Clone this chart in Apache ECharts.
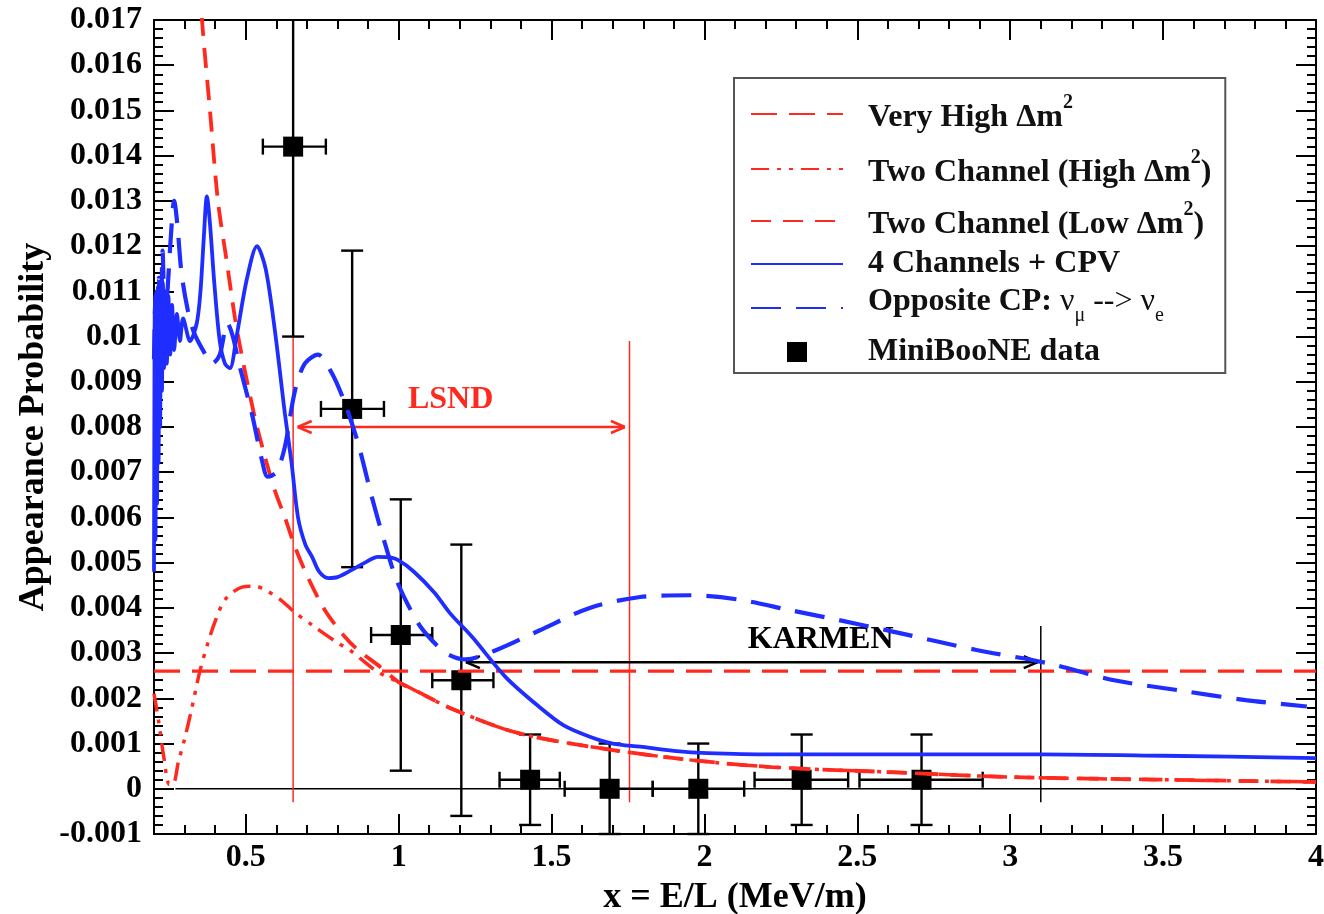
<!DOCTYPE html>
<html>
<head>
<meta charset="utf-8">
<title>Appearance Probability vs E/L</title>
<script src="https://cdn.jsdelivr.net/npm/echarts@6/dist/echarts.min.js"></script>
<style>
  html, body { margin: 0; padding: 0; background: #ffffff; }
  #chart { width: 1324px; height: 914px; }
</style>
</head>
<body>
<div id="chart"></div>
<script>
// ---------------- data ----------------
const xMajorTicks = [0.5, 1, 1.5, 2, 2.5, 3, 3.5, 4];

// Very High Δm² (averaged, constant)
const veryHighX = [0.2, 4.0];
const veryHighY = [0.0026, 0.0026];

// Two Channel (High Δm²)
const highX = [0.200, 0.215, 0.232, 0.250, 0.262, 0.280, 0.300, 0.321, 0.350, 0.376, 0.400, 0.432, 0.488, 0.530, 0.563, 0.610, 0.661, 0.717, 0.802, 0.840, 0.928, 1.000, 1.070, 1.170, 1.386, 1.657, 1.950, 2.220, 2.600, 3.000, 3.500, 4.000];
const highY = [0.0021, 0.0015, 0.0007, 0.0001, 0.0001, 0.0006, 0.0011, 0.0017, 0.0026, 0.00322, 0.0037, 0.00418, 0.00446, 0.00448, 0.0044, 0.0042, 0.0039, 0.00362, 0.00322, 0.00307, 0.0026, 0.00236, 0.00212, 0.00178, 0.00124, 0.0009, 0.00064, 0.00048, 0.00037, 0.00026, 0.0002, 0.00015];

// Two Channel (Low Δm²)
const lowX = [0.345, 0.357, 0.383, 0.409, 0.437, 0.465, 0.488, 0.530, 0.563, 0.595, 0.628, 0.661, 0.703, 0.759, 0.824, 0.867, 0.939, 1.000, 1.070, 1.170, 1.386, 1.657, 1.950, 2.220, 2.600, 3.000, 3.500, 4.000];
const lowY = [0.0185, 0.0170, 0.0150, 0.0130, 0.0117, 0.0104, 0.00955, 0.0082, 0.00734, 0.0066, 0.0060, 0.00535, 0.00468, 0.00395, 0.00336, 0.00307, 0.0027, 0.00236, 0.00212, 0.00178, 0.00124, 0.0009, 0.00064, 0.00048, 0.00037, 0.00026, 0.0002, 0.00015];

// 4 Channels + CPV
const cpvX = [0.200, 0.2025, 0.205, 0.2075, 0.210, 0.2125, 0.215, 0.2175, 0.220, 0.223, 0.226, 0.229, 0.233, 0.237, 0.242, 0.247, 0.253, 0.259, 0.266, 0.275, 0.285, 0.295, 0.318, 0.340, 0.352, 0.363, 0.373, 0.383, 0.397, 0.415, 0.432, 0.448, 0.470, 0.503, 0.537, 0.565, 0.595, 0.628, 0.650, 0.671, 0.695, 0.717, 0.740, 0.770, 0.800, 0.847, 0.890, 0.932, 0.965, 0.997, 1.050, 1.118, 1.167, 1.240, 1.350, 1.460, 1.540, 1.625, 1.700, 1.790, 1.900, 2.010, 2.220, 2.600, 3.100, 3.500, 4.000];
const cpvY = [0.0048, 0.0106, 0.0055, 0.0110, 0.0063, 0.0111, 0.0072, 0.0112, 0.0080, 0.0111, 0.0088, 0.0112, 0.0093, 0.0110, 0.0094, 0.0109, 0.0096, 0.0107, 0.0097, 0.0105, 0.0099, 0.0104, 0.0099, 0.0103, 0.0110, 0.0122, 0.0131, 0.0125, 0.0112, 0.0099, 0.0094, 0.0093, 0.0100, 0.01125, 0.0120, 0.0115, 0.01015, 0.0083, 0.0072, 0.0060, 0.0054, 0.00513, 0.0048, 0.00466, 0.00468, 0.00484, 0.0050, 0.00513, 0.00512, 0.00506, 0.0048, 0.00433, 0.00389, 0.00336, 0.00247, 0.00181, 0.0014, 0.00115, 0.0010, 0.00093, 0.00084, 0.00079, 0.00076, 0.00076, 0.00076, 0.00073, 0.00068];

// Opposite CP: ν_μ --> ν_e
const oppX = [0.200, 0.205, 0.210, 0.216, 0.222, 0.228, 0.236, 0.245, 0.255, 0.266, 0.276, 0.290, 0.310, 0.330, 0.360, 0.390, 0.415, 0.440, 0.458, 0.478, 0.520, 0.553, 0.572, 0.600, 0.628, 0.661, 0.693, 0.736, 0.781, 0.824, 0.867, 0.912, 0.955, 0.997, 1.063, 1.108, 1.160, 1.220, 1.320, 1.460, 1.625, 1.790, 1.950, 2.115, 2.280, 2.440, 2.620, 2.890, 3.120, 3.340, 3.550, 3.770, 3.970];
const oppY = [0.0095, 0.0109, 0.0098, 0.0113, 0.0101, 0.0119, 0.0104, 0.0111, 0.0122, 0.0130, 0.0125, 0.0114, 0.0106, 0.0101, 0.0097, 0.0094, 0.0096, 0.0103, 0.0100, 0.0094, 0.0083, 0.00727, 0.0069, 0.0070, 0.00756, 0.0088, 0.0094, 0.0096, 0.0092, 0.00853, 0.00765, 0.00646, 0.00543, 0.00455, 0.00367, 0.00329, 0.00298, 0.00286, 0.00307, 0.0035, 0.0040, 0.00424, 0.00428, 0.00418, 0.00395, 0.00373, 0.00347, 0.00307, 0.00278, 0.0024, 0.00218, 0.00196, 0.00182];

// MiniBooNE data: centre, bin edges and vertical error
const dataX    = [0.655, 0.848, 1.007, 1.205, 1.430, 1.690, 1.980, 2.318, 2.710];
const dataY    = [0.0142, 0.0084, 0.0034, 0.0024, 0.0002, 0.0, 0.0, 0.0002, 0.0002];
const dataXLow = [0.556, 0.746, 0.910, 1.110, 1.330, 1.543, 1.831, 2.164, 2.507];
const dataXHigh= [0.762, 0.952, 1.110, 1.310, 1.527, 1.831, 2.130, 2.470, 2.910];
const dataYErr = [0.0042, 0.0035, 0.0030, 0.0030, 0.0010, 0.0010, 0.0010, 0.0010, 0.0010];

// Allowed regions of LSND and KARMEN, plus the zero reference line
const lsndEdges   = [[0.655, -0.0003, 0.0105], [1.755, -0.0003, 0.0099]]; // x, yFrom, yTo
const lsndArrow   = [0.67, 1.74, 0.0080];   // xFrom, xTo, y
const lsndLabel   = [1.17, 0.0086];
const karmenEdge  = [3.10, -0.0003, 0.0036];
const karmenArrow = [1.22, 3.09, 0.0028];
const karmenLabel = [2.38, 0.0033];
const zeroLine    = [0.27, 4.0, 0.0];

// ---------------- styling ----------------
const RED = '#ff2a1f';
const BLUE = '#1f2dff';
const FONT = '"Liberation Serif", "Times New Roman", serif';
const X_MIN = 0.2, X_MAX = 4.0, Y_MIN = -0.001, Y_MAX = 0.017;

const zip = (xs, ys) => xs.map((x, i) => [x, ys[i]]);

const seriesNames = [
  'Very High Δm2',
  'Two Channel (High Δm2)',
  'Two Channel (Low Δm2)',
  '4 Channels + CPV',
  'Opposite CP: νμ --> νe',
  'MiniBooNE data'
];

const legendLabels = {
  'Very High Δm2': '{sp1| }{dn|Very High Δm}{sup|2}',
  'Two Channel (High Δm2)': '{sp2| }{dn|Two Channel (High Δm}{sup|2}{dn|)}',
  'Two Channel (Low Δm2)': '{sp3| }{dn|Two Channel (Low Δm}{sup|2}{dn|)}',
  '4 Channels + CPV': '{sp4| }4 Channels + CPV',
  'Opposite CP: νμ --> νe': '{sp5| }{up|Opposite CP: }{g|ν}{sub|μ}{g| --> ν}{sub|e}',
  'MiniBooNE data': '{sp6| }MiniBooNE data'
};

function lineSeries(name, xs, ys, color, width, dash, smooth) {
  return {
    name: name,
    type: 'line',
    data: zip(xs, ys),
    showSymbol: false,
    symbol: 'none',
    smooth: smooth,
    clip: true,
    lineStyle: { color: color, width: width, type: dash, cap: 'butt' },
    itemStyle: { color: color },
    emphasis: { disabled: true },
    silent: true
  };
}

function renderAnnotations(params, api) {
  const thin = (c) => ({ stroke: c, lineWidth: 1.5 });
  const thick = (c) => ({ stroke: c, lineWidth: 2.5 });
  const children = [];
  const seg = (a, b, style) => children.push({ type: 'line', shape: { x1: a[0], y1: a[1], x2: b[0], y2: b[1] }, style: style });
  const arrow = (spec, color) => {
    const a = api.coord([spec[0], spec[2]]);
    const b = api.coord([spec[1], spec[2]]);
    const st = thick(color);
    seg(a, b, st);
    seg(a, [a[0] + 14, a[1] - 6], st);
    seg(a, [a[0] + 14, a[1] + 6], st);
    seg(b, [b[0] - 14, b[1] - 6], st);
    seg(b, [b[0] - 14, b[1] + 6], st);
  };
  // zero reference
  seg(api.coord([zeroLine[0], zeroLine[2]]), api.coord([zeroLine[1], zeroLine[2]]), thin('#000'));
  // LSND band
  lsndEdges.forEach(e => seg(api.coord([e[0], e[1]]), api.coord([e[0], e[2]]), thin(RED)));
  arrow(lsndArrow, RED);
  const lp = api.coord(lsndLabel);
  children.push({ type: 'text', x: lp[0], y: lp[1],
    style: { text: 'LSND', fill: RED, fontFamily: FONT, fontWeight: 'bold', fontSize: 32, align: 'center', verticalAlign: 'middle' } });
  // KARMEN limit
  seg(api.coord([karmenEdge[0], karmenEdge[1]]), api.coord([karmenEdge[0], karmenEdge[2]]), thin('#000'));
  arrow(karmenArrow, '#000');
  const kp = api.coord(karmenLabel);
  children.push({ type: 'text', x: kp[0], y: kp[1],
    style: { text: 'KARMEN', fill: '#000', fontFamily: FONT, fontWeight: 'bold', fontSize: 32, align: 'center', verticalAlign: 'middle' } });
  return { type: 'group', children: children };
}

function renderPoints(params, api) {
  const x = api.value(0), y = api.value(1);
  const xl = api.value(2), xh = api.value(3), ye = api.value(4);
  const yTop = Math.min(y + ye, Y_MAX);
  const yBot = Math.max(y - ye, Y_MIN);
  const c = api.coord([x, y]);
  const top = api.coord([x, yTop]);
  const bot = api.coord([x, yBot]);
  const left = api.coord([xl, y]);
  const right = api.coord([xh, y]);
  const st = { stroke: '#000', lineWidth: 2.4 };
  const L = (x1, y1, x2, y2) => ({ type: 'line', shape: { x1, y1, x2, y2 }, style: st });
  const children = [
    L(c[0], top[1], c[0], bot[1]),
    L(left[0], c[1], right[0], c[1]),
    L(left[0], c[1] - 8, left[0], c[1] + 8),
    L(right[0], c[1] - 8, right[0], c[1] + 8)
  ];
  if (y + ye <= Y_MAX) children.push(L(c[0] - 11, top[1], c[0] + 11, top[1]));
  if (y - ye >= Y_MIN - 1e-9) children.push(L(c[0] - 11, bot[1], c[0] + 11, bot[1]));
  children.push({ type: 'rect', shape: { x: c[0] - 10, y: c[1] - 10, width: 20, height: 20 }, style: { fill: '#000' } });
  return { type: 'group', children: children };
}

const tickLine = { color: '#000', width: 2 };
const labelStyle = { fontFamily: FONT, fontWeight: 'bold', fontSize: 32, color: '#000' };

function xAxisPair(position, withLabels) {
  return [
    { // minor ticks every 0.1
      type: 'value', position: position, min: X_MIN, max: X_MAX, interval: 0.1,
      axisLine: { show: true, onZero: false, lineStyle: tickLine },
      axisTick: { show: true, inside: true, length: 9, lineStyle: tickLine },
      axisLabel: { show: false },
      splitLine: { show: false }
    },
    { // major ticks every 0.5
      type: 'value', position: position, min: X_MIN, max: X_MAX,
      name: withLabels ? 'x = E/L (MeV/m)' : '',
      nameLocation: 'middle', nameGap: 46, nameMoveOverlap: false,
      nameTextStyle: { fontFamily: FONT, fontWeight: 'bold', fontSize: 36, color: '#000' },
      axisLine: { show: false, onZero: false },
      axisTick: { show: true, inside: true, length: 20, lineStyle: tickLine, customValues: xMajorTicks },
      axisLabel: Object.assign({ show: withLabels, margin: 8, customValues: xMajorTicks, formatter: v => String(v) }, labelStyle),
      splitLine: { show: false }
    }
  ];
}

function yAxisDef(position, withLabels) {
  return {
    type: 'value', position: position, min: Y_MIN, max: Y_MAX, interval: 0.001,
    name: withLabels ? 'Appearance Probability' : '',
    nameLocation: 'middle', nameGap: 102, nameMoveOverlap: false,
    nameTextStyle: { fontFamily: FONT, fontWeight: 'bold', fontSize: 36, color: '#000' },
    axisLine: { show: true, onZero: false, lineStyle: tickLine },
    axisTick: { show: true, inside: true, length: 20, lineStyle: tickLine },
    minorTick: { show: true, splitNumber: 5, length: 9, lineStyle: tickLine },
    axisLabel: Object.assign({ show: withLabels, margin: 12,
      formatter: v => (Math.abs(v) < 1e-9 ? '0' : String(parseFloat(v.toFixed(3)))) }, labelStyle),
    splitLine: { show: false },
    minorSplitLine: { show: false }
  };
}

// legend entries for the curves show only the line sample
const hiddenMarker = { color: 'rgba(0,0,0,0)', borderColor: 'rgba(0,0,0,0)', borderWidth: 0, opacity: 0 };

const chart = echarts.init(document.getElementById('chart'), null, { renderer: 'canvas' });

chart.setOption({
  animation: false,
  backgroundColor: '#ffffff',
  grid: { left: 154, right: 8, top: 20, bottom: 80, containLabel: false, outerBoundsMode: 'none' },
  xAxis: [...xAxisPair('bottom', true), ...xAxisPair('top', false)],
  yAxis: [yAxisDef('left', true), yAxisDef('right', false)],
  legend: {
    type: 'plain',
    orient: 'vertical',
    left: 734, top: 78,
    padding: [9, 14, 2, 16],
    itemGap: 0,
    itemWidth: 92,
    itemHeight: 20,
    backgroundColor: '#ffffff',
    borderColor: '#555555',
    borderWidth: 2,
    selectedMode: false,
    data: seriesNames.slice(0, 5).map(n => ({ name: n, itemStyle: hiddenMarker })).concat([
      { name: seriesNames[5], icon: 'path://M0,0H10V10H0Z', itemStyle: { color: '#000' } }
    ]),
    formatter: name => legendLabels[name],
    textStyle: {
      fontFamily: FONT, fontWeight: 'bold', fontSize: 32, color: '#111', lineHeight: 30,
      rich: {
        sp1: { width: 20, lineHeight: 54 },
        sp2: { width: 20, lineHeight: 56 },
        sp3: { width: 20, lineHeight: 48 },
        sp4: { width: 20, lineHeight: 38 },
        sp5: { width: 20, lineHeight: 50 },
        sp6: { width: 20, lineHeight: 38 },
        // main text nudged below / above the line sample
        dn: { fontFamily: FONT, fontWeight: 'bold', fontSize: 32, color: '#111', padding: [8, 0, 0, 0] },
        up: { fontFamily: FONT, fontWeight: 'bold', fontSize: 32, color: '#111', padding: [0, 0, 12, 0] },
        sup: { fontFamily: FONT, fontWeight: 'bold', fontSize: 20, color: '#111', padding: [0, 0, 22, 0] },
        sub: { fontFamily: FONT, fontWeight: 'normal', fontSize: 20, color: '#111', padding: [16, 0, 0, 0] },
        g: { fontFamily: FONT, fontWeight: 'normal', fontSize: 32, color: '#111', padding: [0, 0, 12, 0] }
      }
    }
  },
  series: [
    lineSeries(seriesNames[0], veryHighX, veryHighY, RED, 3.2, [26, 12], false),
    lineSeries(seriesNames[1], highX, highY, RED, 3.5, [18, 8, 4, 8, 4, 8], 0.3),
    lineSeries(seriesNames[2], lowX, lowY, RED, 3.8, [20, 12], 0.3),
    lineSeries(seriesNames[3], cpvX, cpvY, BLUE, 3.8, 'solid', 0.3),
    lineSeries(seriesNames[4], oppX, oppY, BLUE, 4.2, [30, 15], 0.3),
    {
      name: 'annotations',
      type: 'custom',
      silent: true,
      clip: true,
      data: [[1, 0]],
      encode: { x: 0, y: 1 },
      renderItem: renderAnnotations
    },
    {
      name: seriesNames[5],
      type: 'custom',
      silent: true,
      clip: false,
      itemStyle: { color: '#000' },
      data: dataX.map((x, i) => [x, dataY[i], dataXLow[i], dataXHigh[i], dataYErr[i]]),
      encode: { x: 0, y: 1 },
      renderItem: renderPoints
    }
  ]
});
</script>
</body>
</html>
